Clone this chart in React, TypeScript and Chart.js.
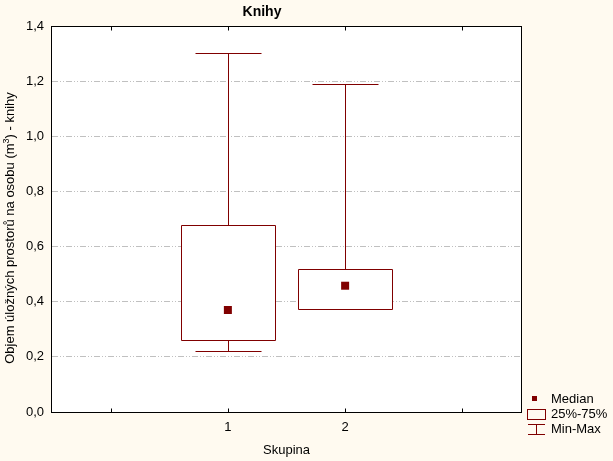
import React, { useEffect, useRef } from "react";
import { Chart, registerables } from "chart.js";

Chart.register(...registerables);

// ---- data ----
const categories = ["1", "2"];
const categoryPositions = [1, 2];
const minValues = [0.22, 0.372];
const q1Values = [0.26, 0.372];
const medianValues = [0.37, 0.458];
const q3Values = [0.677, 0.518];
const maxValues = [1.301, 1.19];
const xTickPositions = [0, 1, 2, 3];
const legendLabels = ["Median", "25%-75%", "Min-Max"];
const titleText = "Knihy";
const xTitle = "Skupina";
const yTitleParts = ["Objem úložných prostorů na osobu (m", "3", ") - knihy"];

const DARK_RED = "#800000";
const BG = "#FFFAF0";
const FONT = "'Liberation Sans', Arial, sans-serif";

const boxPlugin = {
  id: "boxPlugin",
  beforeDraw(chart: any) {
    const { ctx, chartArea } = chart;
    ctx.save();
    ctx.fillStyle = BG;
    ctx.fillRect(0, 0, chart.width, chart.height);
    ctx.fillStyle = "#ffffff";
    ctx.fillRect(chartArea.left, chartArea.top, chartArea.right - chartArea.left, chartArea.bottom - chartArea.top);
    ctx.restore();
  },
  beforeDatasetsDraw(chart: any) {
    const { ctx } = chart;
    const xs = chart.scales.x;
    const ys = chart.scales.y;
    const r = (v: number) => Math.round(v) + 0.5;
    ctx.save();
    ctx.strokeStyle = DARK_RED;
    ctx.lineWidth = 1;
    categoryPositions.forEach((pos, i) => {
      const cx = r(xs.getPixelForValue(pos));
      const bl = r(xs.getPixelForValue(pos - 0.4));
      const br = r(xs.getPixelForValue(pos + 0.4));
      const cl = r(xs.getPixelForValue(pos - 0.28));
      const cr = r(xs.getPixelForValue(pos + 0.28));
      const yMin = r(ys.getPixelForValue(minValues[i]));
      const yQ1 = r(ys.getPixelForValue(q1Values[i]));
      const yQ3 = r(ys.getPixelForValue(q3Values[i]));
      const yMax = r(ys.getPixelForValue(maxValues[i]));
      ctx.beginPath();
      // upper whisker
      ctx.moveTo(cx, yQ3);
      ctx.lineTo(cx, yMax);
      ctx.moveTo(cl, yMax);
      ctx.lineTo(cr, yMax);
      // lower whisker
      ctx.moveTo(cx, yQ1);
      ctx.lineTo(cx, yMin);
      ctx.moveTo(cl, yMin);
      ctx.lineTo(cr, yMin);
      ctx.stroke();
      ctx.beginPath();
      ctx.rect(bl, yQ3, br - bl, yQ1 - yQ3);
      ctx.fillStyle = "#ffffff";
      ctx.fill();
      ctx.stroke();
    });
    ctx.restore();
  },
  afterDraw(chart: any) {
    const { ctx, chartArea } = chart;
    const xs = chart.scales.x;
    const L = Math.round(chartArea.left) - 0.5;
    const R = Math.round(chartArea.right) + 0.5;
    const T = Math.round(chartArea.top) + 0.5;
    const B = Math.round(chartArea.bottom) + 0.5;
    ctx.save();
    ctx.strokeStyle = "#000000";
    ctx.lineWidth = 1;
    ctx.strokeRect(L, T, R - L, B - T);
    ctx.beginPath();
    xTickPositions.forEach((p) => {
      const px = Math.round(xs.getPixelForValue(p)) + 0.5;
      ctx.moveTo(px, T);
      ctx.lineTo(px, T + 4);
      ctx.moveTo(px, B);
      ctx.lineTo(px, B - 4);
    });
    ctx.stroke();

    // title
    ctx.fillStyle = "#000000";
    ctx.font = `bold 14px ${FONT}`;
    ctx.textAlign = "center";
    ctx.textBaseline = "alphabetic";
    ctx.fillText(titleText, 262, 16);

    // x title
    ctx.font = `13px ${FONT}`;
    ctx.fillText(xTitle, (chartArea.left + chartArea.right) / 2, 454);

    // y title (rotated, with superscript)
    ctx.save();
    ctx.translate(13.5, 228);
    ctx.rotate(-Math.PI / 2);
    ctx.textAlign = "left";
    const big = `13px ${FONT}`;
    const small = `9px ${FONT}`;
    ctx.font = big;
    const w0 = ctx.measureText(yTitleParts[0]).width;
    const w2 = ctx.measureText(yTitleParts[2]).width;
    ctx.font = small;
    const w1 = ctx.measureText(yTitleParts[1]).width;
    const total = w0 + w1 + w2;
    let x = -total / 2;
    ctx.font = big;
    ctx.fillText(yTitleParts[0], x, 0);
    x += w0;
    ctx.font = small;
    ctx.fillText(yTitleParts[1], x, -5);
    x += w1;
    ctx.font = big;
    ctx.fillText(yTitleParts[2], x, 0);
    ctx.restore();

    // legend
    ctx.fillStyle = DARK_RED;
    ctx.fillRect(532, 396, 5, 5);
    ctx.strokeStyle = DARK_RED;
    ctx.strokeRect(527.5, 409.5, 18, 10);
    ctx.beginPath();
    ctx.moveTo(528, 424.5);
    ctx.lineTo(545, 424.5);
    ctx.moveTo(536.5, 424.5);
    ctx.lineTo(536.5, 434.5);
    ctx.moveTo(528, 434.5);
    ctx.lineTo(545, 434.5);
    ctx.stroke();
    ctx.fillStyle = "#000000";
    ctx.font = `13px ${FONT}`;
    ctx.textAlign = "left";
    ctx.textBaseline = "middle";
    legendLabels.forEach((t, i) => {
      ctx.fillText(t, 551, 399 + i * 15);
    });
    ctx.restore();
  },
};

export default function App() {
  const ref = useRef<HTMLCanvasElement | null>(null);
  useEffect(() => {
    if (!ref.current) return;
    const chart = new Chart(ref.current, {
      type: "scatter",
      data: {
        datasets: [
          {
            label: "Median",
            data: categoryPositions.map((p, i) => ({ x: p, y: medianValues[i] })),
            pointStyle: "rect",
            pointRadius: 5.66,
            pointBackgroundColor: DARK_RED,
            pointBorderWidth: 0,
            pointBorderColor: DARK_RED,
            showLine: false,
          },
        ],
      },
      options: {
        responsive: false,
        maintainAspectRatio: false,
        animation: false,
        layout: { padding: { left: 0, right: 92, top: 26, bottom: 0 } },
        plugins: {
          legend: { display: false },
          tooltip: { enabled: false },
          title: { display: false },
        },
        scales: {
          x: {
            type: "linear",
            min: -0.5,
            max: 3.5,
            afterFit(s: any) {
              s.height = 49;
            },
            afterBuildTicks(s: any) {
              s.ticks = xTickPositions.map((v) => ({ value: v }));
            },
            ticks: {
              autoSkip: false,
              maxRotation: 0,
              padding: 8,
              color: "#000000",
              font: { family: FONT, size: 13 },
              callback: (v: any) => {
                const idx = categoryPositions.indexOf(Number(v));
                return idx >= 0 ? categories[idx] : "";
              },
            },
            grid: { display: false, drawTicks: false },
            border: { display: false },
          },
          y: {
            min: 0,
            max: 1.4,
            afterFit(s: any) {
              s.width = 52;
            },
            ticks: {
              stepSize: 0.2,
              padding: 8,
              color: "#000000",
              font: { family: FONT, size: 13 },
              callback: (v: any) => Number(v).toFixed(1).replace(".", ","),
            },
            grid: {
              drawTicks: false,
              lineWidth: 1,
              color: (c: any) => {
                const v = c.tick ? c.tick.value : 0;
                return Math.abs(v) < 1e-6 || Math.abs(v - 1.4) < 1e-6 ? "rgba(0,0,0,0)" : "#c0c0c0";
              },
            },
            border: { display: false, dash: [6, 2, 1, 2, 1, 2] },
          },
        },
      },
      plugins: [boxPlugin],
    } as any);
    return () => chart.destroy();
  }, []);
  return (
    <div style={{ position: "absolute", left: 0, top: 0, width: 613, height: 461, background: BG }}>
      <canvas ref={ref} width={613} height={461} style={{ display: "block", width: 613, height: 461 }} />
    </div>
  );
}
